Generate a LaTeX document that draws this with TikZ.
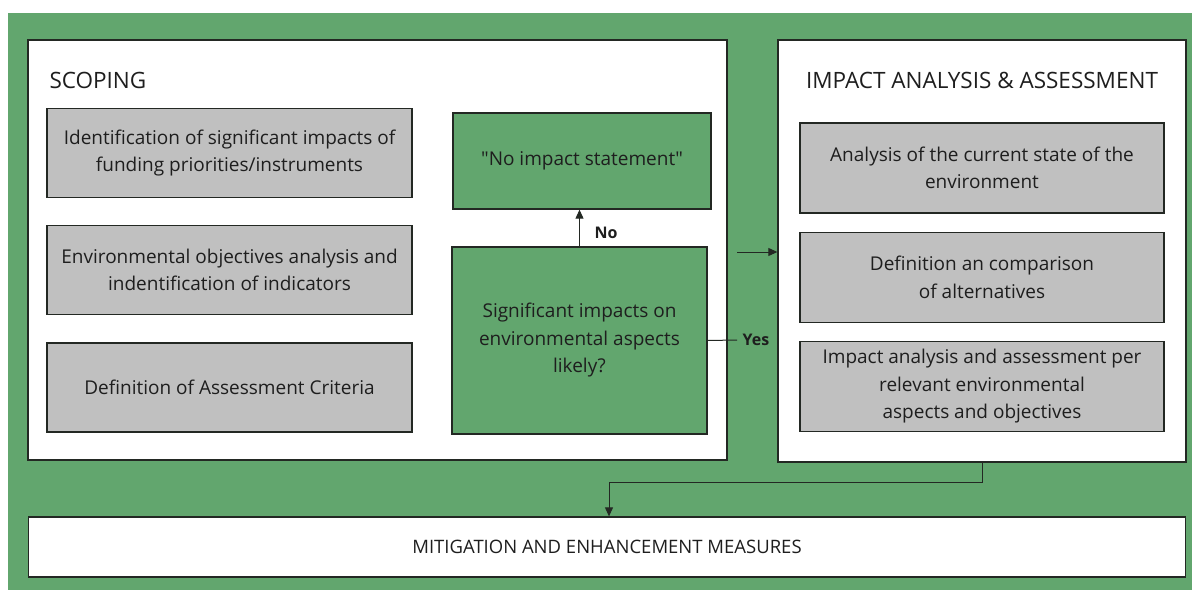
\documentclass[tikz,border=0pt]{standalone}
\usepackage{fontspec}
\setmainfont{Open Sans}
\usepackage{xcolor}
\usepackage{tikz}
\usetikzlibrary{arrows.meta,calc}

\definecolor{seagreen}{RGB}{98,166,110}
\definecolor{boxgray}{RGB}{192,192,192}
\definecolor{linedark}{RGB}{35,40,35}
\definecolor{textdark}{RGB}{30,30,30}

\tikzset{
	panel/.style={rectangle,draw=linedark,line width=1.3pt,fill=white,inner sep=0pt},
	graybox/.style={rectangle,draw=linedark,line width=1.3pt,fill=boxgray,align=center,
		minimum width=365pt,minimum height=89pt,inner sep=0pt,text=textdark,
		font=\fontsize{19}{27.5}\selectfont},
	greenbox/.style={rectangle,draw=linedark,line width=1.3pt,fill=seagreen,align=center,
		inner sep=0pt,text=textdark,font=\fontsize{19}{27.5}\selectfont},
	flow/.style={draw=linedark,line width=1pt,-{Triangle[width=8pt,length=9pt]}},
	answer/.style={text=textdark,font=\fontsize{16}{18}\selectfont\bfseries}
}

\begin{document}
\begin{tikzpicture}[x=1pt,y=-1pt]

\useasboundingbox[fill=white] (0,0) rectangle (1198,594);
\fill[seagreen] (8,13) rectangle (1192,590);

% the two panels and the bottom bar
\node (scoping) at (377.5,250) [panel,minimum width=699pt,minimum height=420pt] {};
\node (impact) at (982,251) [panel,minimum width=408pt,minimum height=422pt] {};
\node (mitig) at (607,547) [panel,minimum width=1157pt,minimum height=60pt,
	text=textdark,font=\fontsize{18.5}{22}\selectfont] {MITIGATION AND ENHANCEMENT MEASURES};

\node (scopehead) at (46,80) [anchor=west,text=textdark,font=\fontsize{22.5}{26}\selectfont] {SCOPING};
\node (impacthead) at (982,80) [text=textdark,font=\fontsize{22.5}{26}\selectfont] {IMPACT ANALYSIS \& ASSESSMENT};

% scoping steps
\node (ident) at (229.5,153) [graybox] {Identification of significant impacts of\\funding priorities/instruments};
\node (objectives) at (229.5,270) [graybox] {Environmental objectives analysis and\\indentification of indicators};
\node (criteria) at (229.5,387.5) [graybox] {Definition of Assessment Criteria};

\node (noimpact) at (582,161) [greenbox,minimum width=258pt,minimum height=96pt] {\textquotedbl No impact statement\textquotedbl};
\node (signif) at (579.5,340.5) [greenbox,minimum width=255pt,minimum height=187pt]
	{Significant impacts on\\environmental aspects\\likely?};

% impact analysis steps
\node (state) at (982,168) [graybox,minimum width=364pt,minimum height=90pt]
	{Analysis of the current state of the\\environment};
\node (altern) at (982,277.5) [graybox,minimum width=364pt,minimum height=90pt]
	{Definition an comparison\\of alternatives};
\node (perasp) at (982,386.5) [graybox,minimum width=364pt,minimum height=90pt]
	{Impact analysis and assessment per\\relevant environmental\\aspects and objectives};

% connectors
\draw[flow] (signif.north) -- (signif.north |- noimpact.south);
\node (no) at (606,233) [answer] {No};

\coordinate (yesout) at (737,340);
\coordinate (yesin) at (737,252);
\draw[draw=linedark,line width=1pt] (signif.east) -- (yesout);
\draw[flow] (yesin) -- (yesin -| impact.west);
\node (yes) at (756,340) [answer] {Yes};

\coordinate (bend) at (609,482);
\draw[flow] (impact.south) |- (bend) -- (bend |- mitig.north);

\end{tikzpicture}
\end{document}
